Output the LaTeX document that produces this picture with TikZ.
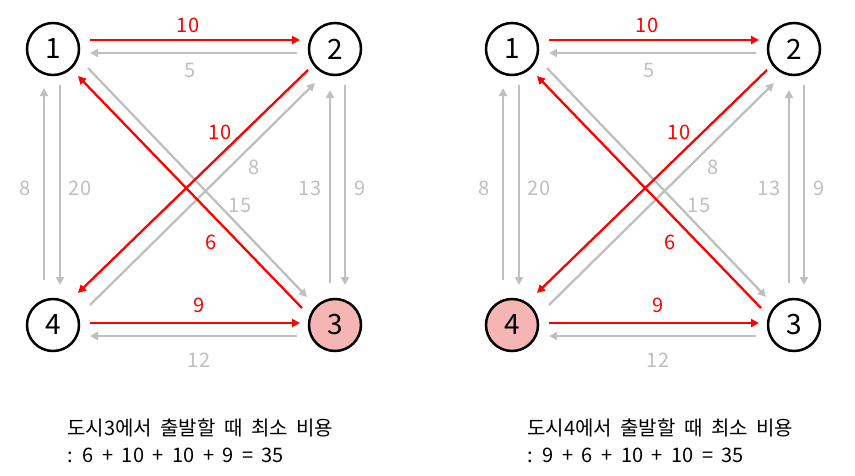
\documentclass[tikz,border=0pt]{standalone}
\usepackage{fontspec}
\setmainfont{Noto Sans CJK KR}[WordSpace=1.9]
\usetikzlibrary{arrows.meta,calc}
\definecolor{cgRed}{HTML}{FF0000}
\definecolor{cgGrey}{HTML}{BFBFBF}
\definecolor{cgPink}{HTML}{F5B5B5}

\begin{document}
\begin{tikzpicture}[x=1pt,y=-1pt,
  city/.style={circle,draw,line width=2.5pt,minimum size=52pt,inner sep=0pt,
               font=\fontsize{28}{28}\selectfont},
  hot/.style={-{Triangle[length=8pt,width=8pt]},cgRed,line width=2.3pt},
  cold/.style={-{Triangle[length=8pt,width=8pt]},cgGrey,line width=2.3pt},
  hl/.style={text=cgRed,font=\fontsize{20}{20}\selectfont},
  cl/.style={text=cgGrey,font=\fontsize{20}{20}\selectfont},
  sum/.style={anchor=west,inner sep=0pt,align=left,font=\fontsize{20}{27}\selectfont}]
\useasboundingbox (0,0) rectangle (855,475);
% left: start at 3
\node[city] (a1) at (53,49) {1};
\node[city] (a2) at (335,49) {2};
\node[city,fill=cgPink] (a3) at (335,325) {3};
\node[city] (a4) at (53,325) {4};
\draw[hot] ($(a1)+(37,-9)$) -- ($(a2)+(-35,-9)$);
\draw[cold] ($(a2)+(-38,4)$) -- ($(a1)+(37,4)$);
\draw[hot] ($(a4)+(37,-2)$) -- ($(a3)+(-35,-2)$);
\draw[cold] ($(a3)+(-38,11)$) -- ($(a4)+(37,11)$);
\draw[cold] ($(a4)+(-9,-45)$) -- ($(a1)+(-9,39)$);
\draw[cold] ($(a1)+(7,36)$) -- ($(a4)+(7,-40)$);
\draw[cold] ($(a3)+(-5,-42)$) -- ($(a2)+(-5,41)$);
\draw[cold] ($(a2)+(10,36)$) -- ($(a3)+(10,-40)$);
\draw[cold] ($(a1)+(35,19)$) -- ($(a3)+(-28,-28)$);
\draw[cold] ($(a4)+(37,-20)$) -- ($(a2)+(-20,34)$);
\draw[hot] ($(a3)+(-33,-17)$) -- ($(a1)+(25,27)$);
\draw[hot] ($(a2)+(-27,21)$) -- ($(a4)+(25,-32)$);
\node[hl] (a12) at (188,25) {10};
\node[cl] (a21) at (190,70) {5};
\node[cl] (a41) at (25,188) {8};
\node[cl] (a14) at (80,188) {20};
\node[cl] (a32) at (310,188) {13};
\node[cl] (a23) at (360,188) {9};
\node[hl] (a43) at (199,305) {9};
\node[cl] (a34) at (199,360) {12};
\node[hl] (a24) at (220,132) {10};
\node[cl] (a42) at (254,167) {8};
\node[cl] (a13) at (240,205) {15};
\node[hl] (a31) at (211,242) {6};
\node[sum] (asum) at (67,441) {도시3에서 출발할 때 최소 비용\\: 6 + 10 + 10 + 9 = 35};
% right: start at 4
\begin{scope}[xshift=459pt]
\node[city] (b1) at (53,49) {1};
\node[city] (b2) at (335,49) {2};
\node[city] (b3) at (335,325) {3};
\node[city,fill=cgPink] (b4) at (53,325) {4};
\draw[hot] ($(b1)+(37,-9)$) -- ($(b2)+(-35,-9)$);
\draw[cold] ($(b2)+(-38,4)$) -- ($(b1)+(37,4)$);
\draw[hot] ($(b4)+(37,-2)$) -- ($(b3)+(-35,-2)$);
\draw[cold] ($(b3)+(-38,11)$) -- ($(b4)+(37,11)$);
\draw[cold] ($(b4)+(-9,-45)$) -- ($(b1)+(-9,39)$);
\draw[cold] ($(b1)+(7,36)$) -- ($(b4)+(7,-40)$);
\draw[cold] ($(b3)+(-5,-42)$) -- ($(b2)+(-5,41)$);
\draw[cold] ($(b2)+(10,36)$) -- ($(b3)+(10,-40)$);
\draw[cold] ($(b1)+(35,19)$) -- ($(b3)+(-28,-28)$);
\draw[cold] ($(b4)+(37,-20)$) -- ($(b2)+(-20,34)$);
\draw[hot] ($(b3)+(-33,-17)$) -- ($(b1)+(25,27)$);
\draw[hot] ($(b2)+(-27,21)$) -- ($(b4)+(25,-32)$);
\node[hl] (b12) at (188,25) {10};
\node[cl] (b21) at (190,70) {5};
\node[cl] (b41) at (25,188) {8};
\node[cl] (b14) at (80,188) {20};
\node[cl] (b32) at (310,188) {13};
\node[cl] (b23) at (360,188) {9};
\node[hl] (b43) at (199,305) {9};
\node[cl] (b34) at (199,360) {12};
\node[hl] (b24) at (220,132) {10};
\node[cl] (b42) at (254,167) {8};
\node[cl] (b13) at (240,205) {15};
\node[hl] (b31) at (211,242) {6};
\node[sum] (bsum) at (68,441) {도시4에서 출발할 때 최소 비용\\: 9 + 6 + 10 + 10 = 35};
\end{scope}
\end{tikzpicture}
\end{document}
